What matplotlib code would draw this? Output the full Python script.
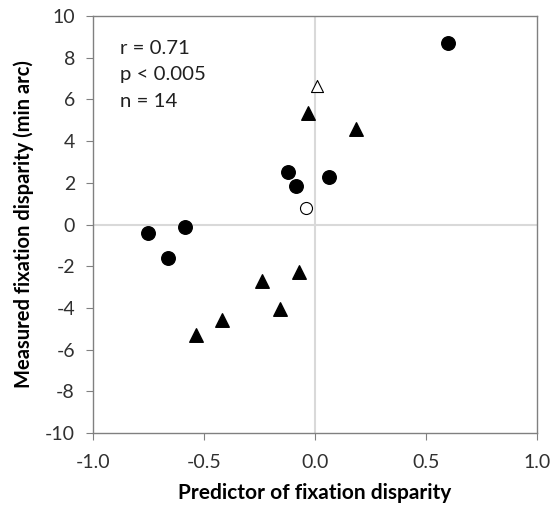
import matplotlib
matplotlib.use("Agg")
import matplotlib.pyplot as plt

plt.rcParams['font.family'] = ['Lato', 'DejaVu Sans']

# Filled circles
circ_x = [0.600, -0.123, -0.087, 0.065, -0.752, -0.586, -0.662]
circ_y = [8.69, 2.50, 1.85, 2.29, -0.39, -0.10, -1.59]
# Filled triangles
tri_x = [-0.030, 0.185, -0.240, -0.071, -0.158, -0.420, -0.537]
tri_y = [5.33, 4.56, -2.71, -2.26, -4.07, -4.58, -5.30]
# Open markers
open_circ_x = [-0.042]
open_circ_y = [0.79]
open_tri_x = [0.0105]
open_tri_y = [6.64]

xticks = [-1.0, -0.5, 0.0, 0.5, 1.0]
yticks = [-10, -8, -6, -4, -2, 0, 2, 4, 6, 8, 10]
stats_text = "r = 0.71\np < 0.005\nn = 14"

fig = plt.figure(figsize=(5.54, 5.09), dpi=100)
ax = fig.add_axes([93/554, 1 - 433/509, 444/554, 417/509])

ax.axhline(0, color='#d9d9d9', lw=1.5, zorder=1)
ax.axvline(0, color='#d9d9d9', lw=1.5, zorder=1)

ax.scatter(circ_x, circ_y, marker='o', s=95, color='black', zorder=3)
ax.scatter(tri_x, tri_y, marker='^', s=95, color='black', zorder=3)
ax.scatter(open_circ_x, open_circ_y, marker='o', s=75, facecolor='white', edgecolor='black', linewidth=0.8, zorder=3)
ax.scatter(open_tri_x, open_tri_y, marker='^', s=75, facecolor='white', edgecolor='black', linewidth=0.8, zorder=3)

ax.set_xlim(-1, 1)
ax.set_ylim(-10, 10)
ax.set_xticks(xticks)
ax.set_xticklabels([f"{v:.1f}" for v in xticks])
ax.set_yticks(yticks)
ax.set_yticklabels([str(v) for v in yticks])
ax.tick_params(direction='out', length=5, color='#808080', labelsize=14, labelcolor='#303030')
ax.tick_params(axis='y', pad=8)
ax.tick_params(axis='x', pad=10)

for s in ax.spines.values():
    s.set_color('#808080')
    s.set_linewidth(1.0)

ax.set_xlabel("Predictor of fixation disparity", fontsize=15, fontweight='bold', labelpad=9)
ax.set_ylabel("Measured fixation disparity (min arc)", fontsize=14.5, fontweight='bold', labelpad=8)

ax.text(0.06, 0.943, stats_text, transform=ax.transAxes, fontsize=14.7, va='top', ha='left', linespacing=1.68, color='#202020')

fig.savefig("out.png", dpi=100)
